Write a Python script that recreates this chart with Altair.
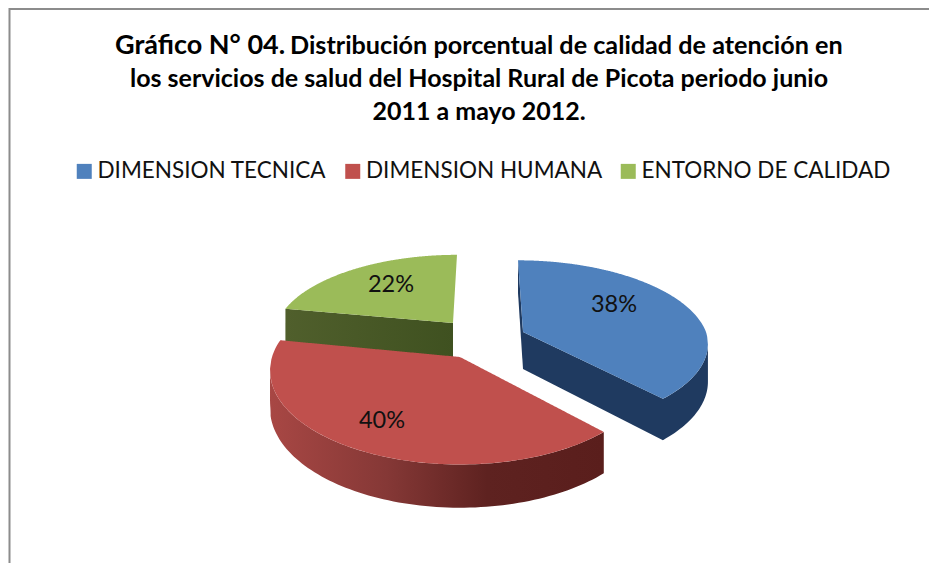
import numpy as np
import pandas as pd
import altair as alt

CATEGORIES = ["DIMENSION TECNICA", "DIMENSION HUMANA", "ENTORNO DE CALIDAD"]
VALUES = [38, 40, 22]
TOP_COLORS = ["#4F81BD", "#C0504D", "#9BBB59"]
TITLE_LEAD = "Gráfico N° 04."
TITLE_LINE_1 = "Distribución porcentual de  calidad de atención en"
TITLE_LINE_2 = "los servicios de salud del Hospital Rural de Picota periodo junio"
TITLE_LINE_3 = "2011 a mayo 2012."

FONT = "Lato"
SX = alt.Scale(domain=[8, 929])
SY = alt.Scale(domain=[8, 563], reverse=True)
K = 0.144
DEPTH = 37
SHAPE = {
    CATEGORIES[0]: dict(cx=523, cy=332, a=183, b=82, skew=-5),
    CATEGORIES[1]: dict(cx=460, cy=357, a=188, b=92, skew=0),
    CATEGORIES[2]: dict(cx=453, cy=323, a=176, b=78, skew=4),
}
LABEL_POS = {CATEGORIES[0]: (614, 305), CATEGORIES[1]: (382, 421), CATEGORIES[2]: (391, 285)}

ends = np.cumsum(VALUES) * 3.6
starts = ends - np.array(VALUES) * 3.6
SPAN = {c: (s, e) for c, s, e in zip(CATEGORIES, starts, ends)}


def rim(cat, deg):
    p = SHAPE[cat]
    t = np.radians(deg)
    u, v = np.sin(t), np.cos(t)
    s = 1 / (1 + K * v)
    return p["cx"] + p["a"] * u * s + p["skew"] * max(v, 0), p["cy"] - p["b"] * v * s, DEPTH * s


def top_face(cat):
    p = SHAPE[cat]
    a0, a1 = SPAN[cat]
    pts = [(p["cx"], p["cy"])] + [rim(cat, d)[:2] for d in np.linspace(a0, a1, 80)]
    pts = np.array(pts)
    xs = np.linspace(pts[:, 0].min(), pts[:, 0].max(), 260)
    rows = []
    closed = np.vstack([pts, pts[:1]])
    for x in xs:
        hits = []
        for (x0, y0), (x1, y1) in zip(closed[:-1], closed[1:]):
            if min(x0, x1) <= x <= max(x0, x1):
                if x0 == x1:
                    hits += [y0, y1]
                else:
                    hits.append(y0 + (y1 - y0) * (x - x0) / (x1 - x0))
        rows.append(dict(slice=cat, x=x, y=min(hits), y2=max(hits)))
    return pd.DataFrame(rows)


def wall_rows(points):
    return pd.DataFrame([dict(x=x, y=y, y2=y + d) for x, y, d in points])


def apex(cat):
    p = SHAPE[cat]
    return (p["cx"], p["cy"], DEPTH)


blue, red, green = CATEGORIES
blue_wall = wall_rows([apex(blue)] + [rim(blue, d) for d in np.linspace(SPAN[blue][1], 98, 30)])
blue_back = pd.DataFrame([
    dict(x=rim(blue, 0)[0], y=rim(blue, 0)[1], y2=rim(blue, 0)[1] + rim(blue, 0)[2]),
    dict(x=SHAPE[blue]["cx"], y=SHAPE[blue]["cy"], y2=SHAPE[blue]["cy"] + DEPTH),
])
red_wall = wall_rows([rim(red, d) for d in np.linspace(SPAN[red][0], 266, 90)])
green_wall = wall_rows([rim(green, SPAN[green][0]), apex(green)])
tops = pd.concat([top_face(c) for c in CATEGORIES])

X = alt.X("x:Q", scale=SX, axis=None)
Y = alt.Y("y:Q", scale=SY, axis=None, stack=None)


def grad(*stops):
    return alt.Gradient(gradient="linear", x1=0, x2=1, y1=0, y2=0,
                        stops=[alt.GradientStop(offset=o, color=c) for o, c in stops])


def wall(df, fill):
    return alt.Chart(df).mark_area(color=fill).encode(x=X, y=Y, y2="y2:Q")


frame_left = alt.Chart(pd.DataFrame({"x": [9.5], "y": [8], "y2": [563]})).mark_rule(color="#8c8c8c", strokeWidth=2).encode(x=X, y=Y, y2="y2:Q")
frame_top = alt.Chart(pd.DataFrame({"x": [9], "x2": [929], "y": [9]})).mark_rule(color="#8c8c8c", strokeWidth=2).encode(x=X, x2="x2:Q", y=Y)

top_layer = alt.Chart(tops).mark_area().encode(
    x=X, y=Y, y2="y2:Q", detail="slice:N",
    color=alt.Color("slice:N", scale=alt.Scale(domain=CATEGORIES, range=TOP_COLORS),
                    sort=CATEGORIES,
                    legend=alt.Legend(title=None, orient="none", legendX=65, legendY=152,
                                      direction="horizontal", columns=3, symbolType="square",
                                      symbolSize=225, symbolStrokeWidth=0, labelFont=FONT,
                                      labelFontSize=22.5, labelColor="#111111", labelLimit=400,
                                      columnPadding=14.5, labelOffset=2)),
)

labels_df = pd.DataFrame([dict(x=LABEL_POS[c][0], y=LABEL_POS[c][1], t=f"{v}%") for c, v in zip(CATEGORIES, VALUES)])
labels = alt.Chart(labels_df).mark_text(font=FONT, fontSize=23.5, color="#111111", align="center", baseline="middle").encode(x=X, y=Y, text="t:N")


def title_text(text, x, y, size, align):
    df = pd.DataFrame({"x": [x], "y": [y], "t": [text]})
    return alt.Chart(df).mark_text(font=FONT, fontWeight="bold", fontSize=size, color="#000000",
                                   align=align, baseline="alphabetic").encode(x=X, y=Y, text="t:N")


chart = alt.layer(
    frame_left, frame_top,
    wall(green_wall, grad((0, "#505F2C"), (1, "#3F5120"))),
    wall(red_wall, grad((0, "#A84744"), (0.35, "#853836"), (0.65, "#5E2220"), (1, "#5A1E1C"))),
    wall(blue_back, "#1F3A60"),
    wall(blue_wall, "#1F3A60"),
    top_layer,
    labels,
    title_text(TITLE_LEAD, 115, 54, 27, "left"),
    title_text(TITLE_LINE_1, 290, 54, 25.2, "left"),
    title_text(TITLE_LINE_2, 479, 87, 25, "center"),
    title_text(TITLE_LINE_3, 479, 120, 25, "center"),
).properties(
    width=921, height=555, padding=0,
    autosize=alt.AutoSizeParams(type="none", contains="content"),
).configure_view(stroke=None)

chart.save("out.html", embed_options={"renderer": "svg", "actions": False})
